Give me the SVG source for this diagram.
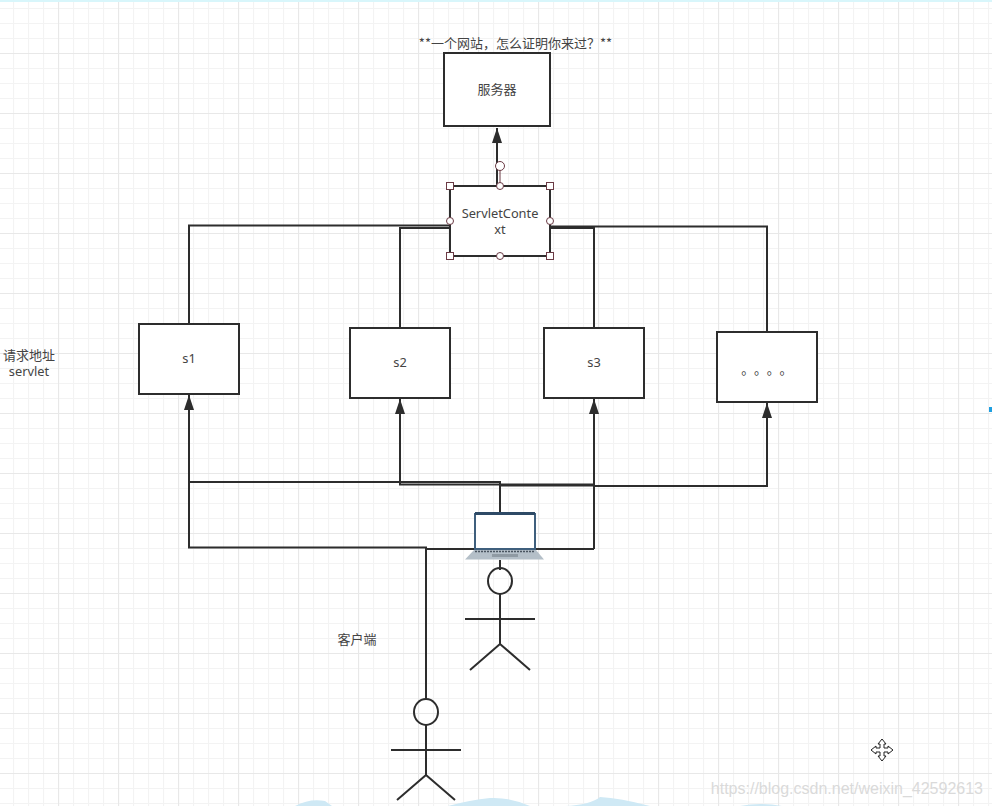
<svg xmlns="http://www.w3.org/2000/svg" width="992" height="806" viewBox="0 0 992 806">
<defs>
<pattern id="minor" width="15" height="15" patternUnits="userSpaceOnUse" x="-2" y="8"><path d="M0.500 0V15M0 0.500H15" fill="none" stroke="#f3f3f3" stroke-width="1.200"/></pattern>
<pattern id="major" width="60" height="60" patternUnits="userSpaceOnUse" x="-2" y="-7"><path d="M0.500 0V60M0 0.500H60" fill="none" stroke="#e8e8e8" stroke-width="1.200"/></pattern>
<marker id="arr" markerUnits="userSpaceOnUse" markerWidth="16" markerHeight="10" refX="15" refY="5" orient="auto" viewBox="0 0 16 10"><path d="M15 5L0 0V10Z" fill="#2d2d2d"/></marker>
</defs>
<style>
.box{fill:#fff;stroke:#2d2d2d;stroke-width:2}
.w{fill:none;stroke:#2d2d2d;stroke-width:2}
.h{fill:none;stroke:#2d2d2d;stroke-width:3}
.t{font-family:"Noto Sans","Liberation Sans",sans-serif;font-size:12.800px;fill:#444;text-anchor:middle}
.c{font-family:"Noto Sans CJK SC","Liberation Sans",sans-serif;font-size:13px;fill:#444;text-anchor:middle}
.hs{fill:#fff;stroke:#6b3a44;stroke-width:1}
</style>
<rect width="992" height="806" fill="#fff"/>
<rect width="992" height="806" fill="url(#minor)"/>
<rect width="992" height="806" fill="url(#major)"/>
<rect width="992" height="2" fill="#d8f6fb"/>
<rect x="989" y="407" width="3" height="5" fill="#1e9fe0"/>
<g id="clouds" fill="#cfe9f5">
<path d="M295 806Q310 798 325 801L332 806Z"/>
<path d="M448 806Q470 800 490 798Q510 797 530 806Z"/>
<path d="M565 806Q590 805 600 797Q620 798 650 806Z"/>
<path d="M740 806Q760 802 782 806Z"/>
</g>
<g id="connectors">
<path class="w" d="M189 324V225.500H450"/>
<path class="w" d="M400 328V228H450"/>
<path class="w" d="M594 328V228H550"/>
<path class="w" d="M767 332V226.500H550"/>
<path class="w" d="M497 185V128" marker-end="url(#arr)"/>
<path class="w" d="M500 512V482H189V395" marker-end="url(#arr)"/>
<path class="w" d="M500 484.500H400V399" marker-end="url(#arr)"/>
<path class="h" d="M500 485H594" />
<path class="w" d="M594 549V399" marker-end="url(#arr)"/>
<path class="w" d="M594 486H767V403" marker-end="url(#arr)"/>
<path class="w" d="M426 700V547.500H189V482"/>
<path class="w" d="M426 549H594"/>
<path class="w" d="M500 560V570"/>
</g>
<g id="server"><rect class="box" x="444" y="53" width="106" height="73"/><text class="c" x="497" y="94">服务器</text></g>
<g id="context">
<rect class="box" x="450" y="186" width="100" height="70"/>
<text class="t" x="500" y="218">ServletConte</text><text class="t" x="500" y="234">xt</text>
<path d="M500 171V186" fill="none" stroke="#6b3a44" stroke-width="1"/>
<circle class="hs" cx="500" cy="166" r="4.500"/>
<rect class="hs" x="446.500" y="182.500" width="7" height="7"/><rect class="hs" x="546.500" y="182.500" width="7" height="7"/>
<rect class="hs" x="446.500" y="252.500" width="7" height="7"/><rect class="hs" x="546.500" y="252.500" width="7" height="7"/>
<circle class="hs" cx="500" cy="186" r="3.500"/><circle class="hs" cx="500" cy="256" r="3.500"/>
<circle class="hs" cx="450" cy="221" r="3.500"/><circle class="hs" cx="550" cy="221" r="3.500"/>
</g>
<g id="s1"><rect class="box" x="139" y="324" width="100" height="70"/><text class="t" x="189" y="363">s1</text></g>
<g id="s2"><rect class="box" x="350" y="328" width="100" height="70"/><text class="t" x="400" y="367">s2</text></g>
<g id="s3"><rect class="box" x="544" y="328" width="100" height="70"/><text class="t" x="594" y="367">s3</text></g>
<g id="s4"><rect class="box" x="717" y="332" width="100" height="70"/><text class="c" x="770" y="374" letter-spacing="6.300">。。。。</text></g>
<g id="laptop">
<rect x="475" y="514" width="60" height="35" fill="#fff" stroke="#3f5f7d" stroke-width="2"/>
<rect x="475" y="512" width="60" height="3" fill="#2e4a66"/>
<path d="M474 550H536L544 559.500H465Z" fill="#b4bfc8"/>
<path d="M475 551.500H535" stroke="#4a5560" stroke-width="1.500" stroke-dasharray="2 1" fill="none"/>
<rect x="492" y="554" width="26" height="3" fill="#8f9aa3"/>
</g>
<g id="person1">
<ellipse class="w" cx="500" cy="581" rx="12" ry="13"/>
<path class="w" d="M500 594V644M465 619H535M500 644L470 670M500 644L530 670"/>
</g>
<g id="person2">
<ellipse class="w" cx="426" cy="712" rx="12" ry="13"/>
<path class="w" d="M426 725V775M391 750H461M426 775L397 800M426 775L455 800"/>
</g>
<g id="labels">
<text class="c" x="515.500" y="48">**一个网站，怎么证明你来过？**</text>
<text class="c" x="29" y="360">请求地址</text>
<text class="t" x="29" y="376">servlet</text>
<text class="c" x="357" y="644">客户端</text>
<text x="983" y="794" text-anchor="end" font-family="Liberation Sans, sans-serif" font-size="16" fill="#dadada">https://blog.csdn.net/weixin_42592613</text>
</g>
<g id="cursor" fill="#fff" stroke="#222" stroke-width="1">
<path d="M882 739L886 744H884V748H888V746L893 750L888 754V752H884V756H886L882 761L878 756H880V752H876V754L871 750L876 746V748H880V744H878Z"/>
</g>
</svg>
